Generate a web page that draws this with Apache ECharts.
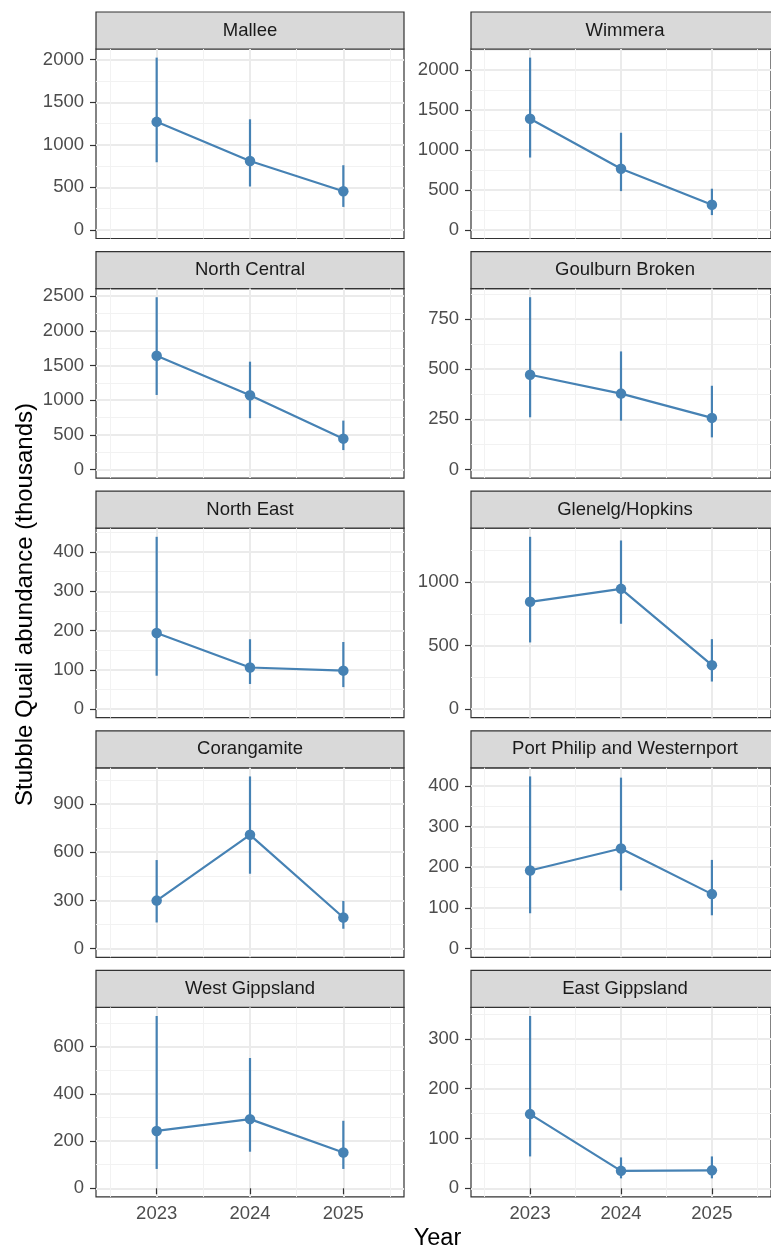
<!DOCTYPE html>
<html>
<head>
<meta charset="utf-8">
<script src="https://cdn.jsdelivr.net/npm/echarts@6/dist/echarts.min.js"></script>
<style>
  html, body { margin: 0; padding: 0; background: #fff; }
  #chart { width: 771px; height: 1250px; }
</style>
</head>
<body>
<div id="chart"></div>
<script>
// data (thousands)
const years = [2023, 2024, 2025];
const regions = ['Mallee', 'Wimmera', 'North Central', 'Goulburn Broken', 'North East',
  'Glenelg/Hopkins', 'Corangamite', 'Port Philip and Westernport', 'West Gippsland', 'East Gippsland'];
const estimate = [
  [1270, 810, 455], [1390, 765, 315], [1640, 1070, 445], [472, 378, 257], [194, 106, 98],
  [845, 947, 346], [299, 708, 194], [192, 246, 134], [243, 293, 152], [149, 35, 36]
];
const lower = [
  [795, 510, 270], [905, 485, 185], [1075, 740, 280], [260, 243, 160], [85, 64, 56],
  [525, 672, 217], [163, 466, 124], [87, 143, 82], [82, 155, 82], [64, 20, 20]
];
const upper = [
  [2025, 1300, 760], [2155, 1215, 515], [2485, 1555, 705], [858, 588, 417], [439, 178, 171],
  [1357, 1328, 551], [551, 1071, 297], [423, 420, 218], [730, 552, 286], [346, 62, 64]
];
const yTicks = [
  [0, 500, 1000, 1500, 2000], [0, 500, 1000, 1500, 2000], [0, 500, 1000, 1500, 2000, 2500],
  [0, 250, 500, 750], [0, 100, 200, 300, 400], [0, 500, 1000], [0, 300, 600, 900],
  [0, 100, 200, 300, 400], [0, 200, 400, 600], [0, 100, 200, 300]
];
const xMinor = [2022.5, 2023.5, 2024.5, 2025.5];

const FONT = '"Liberation Sans", Arial, sans-serif';
const BLUE = '#4682B4';
const colLeft = [96, 471];
const panelW = 308, stripH = 37, panelH = 189.5, rowTop = 12, rowStep = 239.6;

const grid = [], xAxis = [], yAxis = [], series = [], graphic = [];

regions.forEach(function (name, i) {
  const row = Math.floor(i / 2), col = i % 2;
  const left = colLeft[col];
  const top = rowTop + row * rowStep;
  const bottomRow = row === 4;
  const hiMax = Math.max.apply(null, upper[i]);
  const step = yTicks[i][1] - yTicks[i][0];
  const yMinor = yTicks[i].map(v => v + step / 2);

  grid.push({
    left: left, top: top + stripH, width: panelW, height: panelH,
    show: true, backgroundColor: '#fff', borderColor: '#333', borderWidth: 1.2
  });

  // major x axis
  xAxis.push({
    type: 'value', gridIndex: i, min: 2022.35, max: 2025.65,
    axisLine: { show: false },
    axisTick: { show: bottomRow, customValues: years, length: 6, lineStyle: { color: '#333', width: 1.2 } },
    axisLabel: {
      show: bottomRow, customValues: years, margin: 8, color: '#4D4D4D',
      fontFamily: FONT, fontSize: 18.5, formatter: v => String(v)
    },
    splitLine: { show: true, lineStyle: { color: '#EBEBEB', width: 2 } }
  });
  // minor x grid
  xAxis.push({
    type: 'value', gridIndex: i, min: 2022.35, max: 2025.65, position: 'top',
    axisLine: { show: false }, axisLabel: { show: false },
    axisTick: { show: false, customValues: xMinor },
    splitLine: { show: true, lineStyle: { color: '#F2F2F2', width: 1 } }
  });
  // major y axis
  yAxis.push({
    type: 'value', gridIndex: i, min: -0.05 * hiMax, max: 1.05 * hiMax,
    axisLine: { show: false },
    axisTick: { show: true, customValues: yTicks[i], length: 6, lineStyle: { color: '#333', width: 1.2 } },
    axisLabel: {
      customValues: yTicks[i], margin: 12, color: '#4D4D4D',
      fontFamily: FONT, fontSize: 18.5, formatter: v => String(v)
    },
    splitLine: { show: true, lineStyle: { color: '#EBEBEB', width: 2 } }
  });
  // minor y grid
  yAxis.push({
    type: 'value', gridIndex: i, min: -0.05 * hiMax, max: 1.05 * hiMax, position: 'right',
    axisLine: { show: false }, axisLabel: { show: false },
    axisTick: { show: false, customValues: yMinor },
    splitLine: { show: true, lineStyle: { color: '#F2F2F2', width: 1 } }
  });

  series.push({
    type: 'custom', xAxisIndex: 2 * i, yAxisIndex: 2 * i,
    data: years.map((y, k) => [y, lower[i][k], upper[i][k]]),
    encode: { x: 0, y: [1, 2] },
    renderItem: function (params, api) {
      const a = api.coord([api.value(0), api.value(1)]);
      const b = api.coord([api.value(0), api.value(2)]);
      return {
        type: 'line',
        shape: { x1: a[0], y1: a[1], x2: b[0], y2: b[1] },
        style: { stroke: BLUE, lineWidth: 2.2 }
      };
    }
  });
  series.push({
    type: 'line', xAxisIndex: 2 * i, yAxisIndex: 2 * i,
    data: years.map((y, k) => [y, estimate[i][k]]),
    symbol: 'circle', symbolSize: 10.5, showSymbol: true,
    itemStyle: { color: BLUE },
    lineStyle: { color: BLUE, width: 2.2 }
  });

  // facet strip
  graphic.push({
    type: 'rect',
    shape: { x: left, y: top, width: panelW, height: stripH },
    style: { fill: '#D9D9D9', stroke: '#333', lineWidth: 1.2 }
  });
  graphic.push({
    type: 'text', x: left + panelW / 2, y: top + stripH / 2,
    style: {
      text: name, font: '18.5px ' + FONT, fill: '#1A1A1A',
      align: 'center', verticalAlign: 'middle', textAlign: 'center', textVerticalAlign: 'middle'
    }
  });
});

// axis titles
graphic.push({
  type: 'text', x: 25, y: 604.5, rotation: Math.PI / 2,
  style: {
    text: 'Stubble Quail abundance (thousands)', font: '24px ' + FONT, fill: '#000',
    align: 'center', verticalAlign: 'middle', textAlign: 'center', textVerticalAlign: 'middle'
  }
});
graphic.push({
  type: 'text', x: 437.5, y: 1239,
  style: {
    text: 'Year', font: '23.5px ' + FONT, fill: '#000',
    align: 'center', verticalAlign: 'middle', textAlign: 'center', textVerticalAlign: 'middle'
  }
});

const myChart = echarts.init(document.getElementById('chart'));
myChart.setOption({
  animation: false,
  backgroundColor: '#fff',
  grid: grid,
  xAxis: xAxis,
  yAxis: yAxis,
  series: series,
  graphic: graphic
});
</script>
</body>
</html>
